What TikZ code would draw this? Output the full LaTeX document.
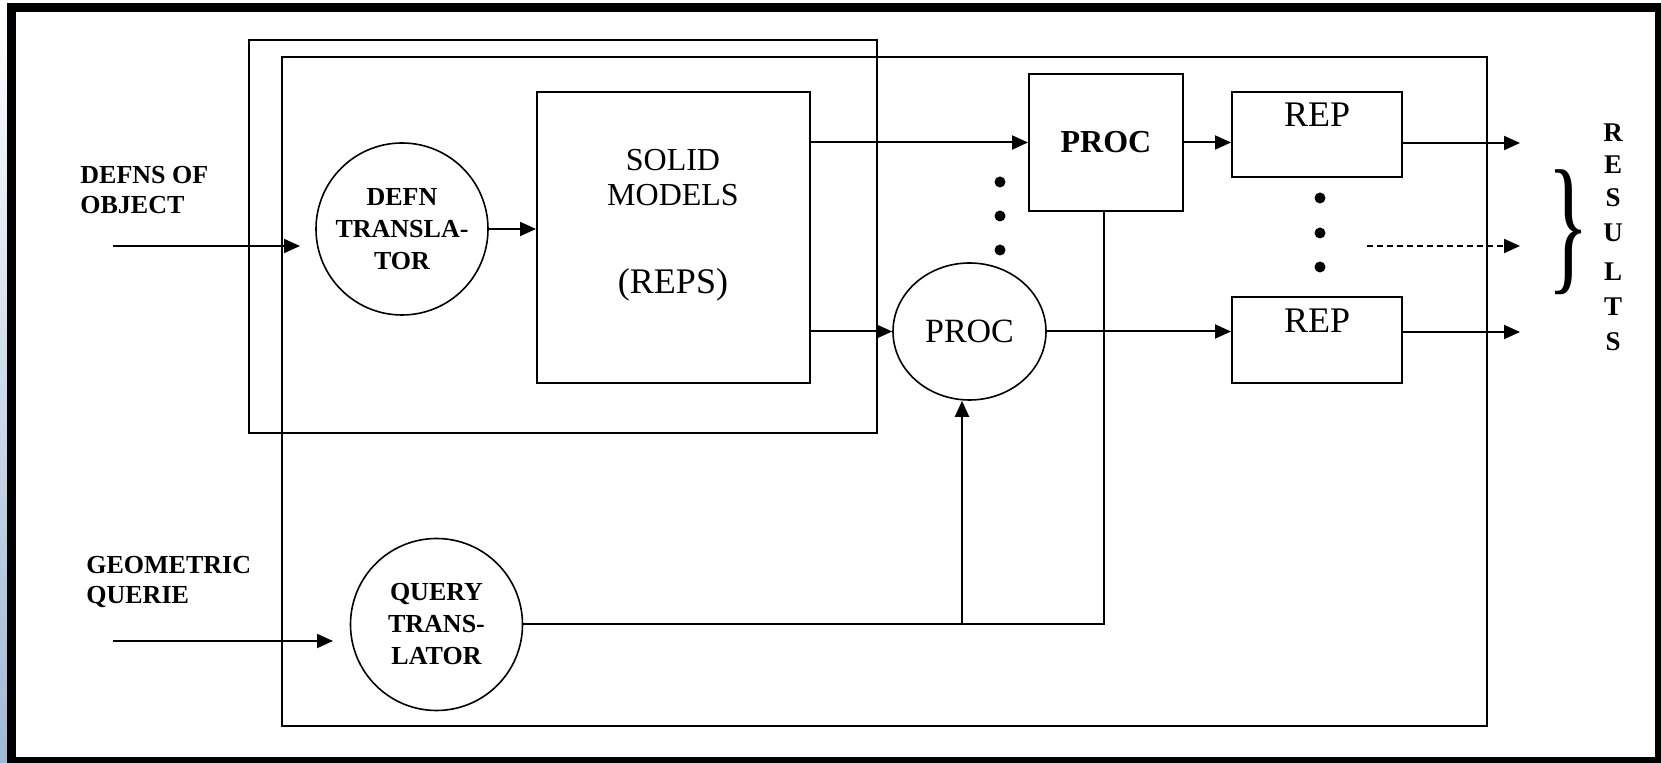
\documentclass[tikz,border=0pt]{standalone}
\usepackage{fontspec}
\setmainfont{Liberation Serif}
\usepackage{graphicx}
\usetikzlibrary{arrows.meta,shapes.geometric}
\begin{document}
\begin{tikzpicture}[x=0.5pt,y=-0.5pt,
  ln/.style={line width=1pt},
  arr/.style={ln,-{Triangle[length=8pt,width=7pt]}},
  lbl/.style={font=\fontsize{13}{15}\selectfont\bfseries,align=left,inner sep=0},
  rnd/.style={circle,draw,line width=0.8pt,minimum size=86pt,inner sep=0,align=center,font=\fontsize{13}{16}\selectfont\bfseries},
  box/.style={draw,ln,rectangle,inner sep=0},
  dot/.style={circle,fill,inner sep=0,minimum size=5.5pt},
  txt/.style={inner sep=0,align=center},
]
\useasboundingbox (0,0) rectangle (1661,763);
% frame
\shade[top color=white, middle color={rgb,255:red,232;green,236;blue,244}, bottom color={rgb,255:red,160;green,184;blue,214}] (0,0) rectangle (7,763);
\fill[black] (7,3) rectangle (1661,763);
\fill[white] (16,12) rectangle (1655,757);

% containers
\node[box,minimum width=314pt,minimum height=196.5pt] (contA) at (563,236.5) {};
\node[box,minimum width=602.5pt,minimum height=334.5pt] (contB) at (884.5,391.5) {};

% main nodes
\node[rnd] (defn) at (402,229) {DEFN\\TRANSLA-\\TOR};
\node[rnd] (query) at (436.5,624.5) {QUERY\\TRANS-\\LATOR};
\node[box,minimum width=136.5pt,minimum height=145.5pt] (solid) at (673.5,237.5) {};
\node[txt,font=\fontsize{16}{17.5}\selectfont] (solidt) at (673,177.5) {SOLID\\MODELS};
\node[txt,font=\fontsize{18}{20}\selectfont] (repst) at (673,285) {(REPS)};
\node[box,minimum width=77pt,minimum height=68.5pt,font=\fontsize{16}{18}\selectfont\bfseries] (procbox) at (1106,142.5) {PROC};
\node[ellipse,draw,line width=0.8pt,minimum width=76.5pt,minimum height=68.5pt,inner sep=0,font=\fontsize{17}{19}\selectfont] (proc) at (969.5,331.5) {PROC};
\node[box,minimum width=85pt,minimum height=42.5pt] (rep1) at (1317,134.5) {};
\node[txt,font=\fontsize{18}{20}\selectfont] (rep1t) at (1317,115) {REP};
\node[box,minimum width=85pt,minimum height=43pt] (rep2) at (1317,340) {};
\node[txt,font=\fontsize{18}{20}\selectfont] (rep2t) at (1317,321) {REP};

% labels
\node[lbl,anchor=west] (defns) at (80,190) {DEFNS OF\\OBJECT};
\node[lbl,anchor=west] (geom) at (86,582) {GEOMETRIC\\QUERIE};

% dots
\node[dot] (d1) at (1000,182) {};
\node[dot] (d2) at (1000,216) {};
\node[dot] (d3) at (1000,250) {};
\node[dot] (d4) at (1320,198) {};
\node[dot] (d5) at (1320,233) {};
\node[dot] (d6) at (1320,267) {};

% coordinates
\coordinate (a1s) at (113,246);
\coordinate (a1e) at (300,246);
\coordinate (a2s) at (113,641);
\coordinate (a2e) at (333,641);
\coordinate (o1) at (1520,143);
\coordinate (o2) at (1520,332);
\coordinate (ds) at (1367,246);
\coordinate (de) at (1520,246);
\coordinate (j1) at (962,0);
\coordinate (j2) at (1104,0);

% connectors
\draw[arr] (a1s) -- (a1e);
\draw[arr] (a2s) -- (a2e);
\draw[arr] (defn.east) -- (defn.east -| solid.west);
\draw[arr] (procbox.west -| solid.east) -- (procbox.west);
\draw[arr] (proc.west -| solid.east) -- (proc.west);
\draw[arr] (procbox.east) -- (procbox.east -| rep1.west);
\draw[arr] (proc.east) -- (proc.east -| rep2.west);
\draw[arr] (rep1.east |- o1) -- (o1);
\draw[arr] (rep2.east |- o2) -- (o2);
\draw[arr,dash pattern=on 3pt off 2pt] (ds) -- (de);
\draw[ln] (query.east) -- (query.east -| j2) -- (j2 |- procbox.south);
\draw[arr] (query.east -| j1) -- (j1 |- proc.south);

% brace and RESULTS
\node[inner sep=0] (brace) at (1568,232) {\resizebox*{21pt}{62.5pt}{\}}};
\foreach \l/\yy [count=\i] in {R/133,E/165,S/198,U/233,L/272,T/307,S/342}
  \node[txt,font=\fontsize{13.5}{15}\selectfont\bfseries] (res\i) at (1613,\yy) {\l};
\end{tikzpicture}
\end{document}
